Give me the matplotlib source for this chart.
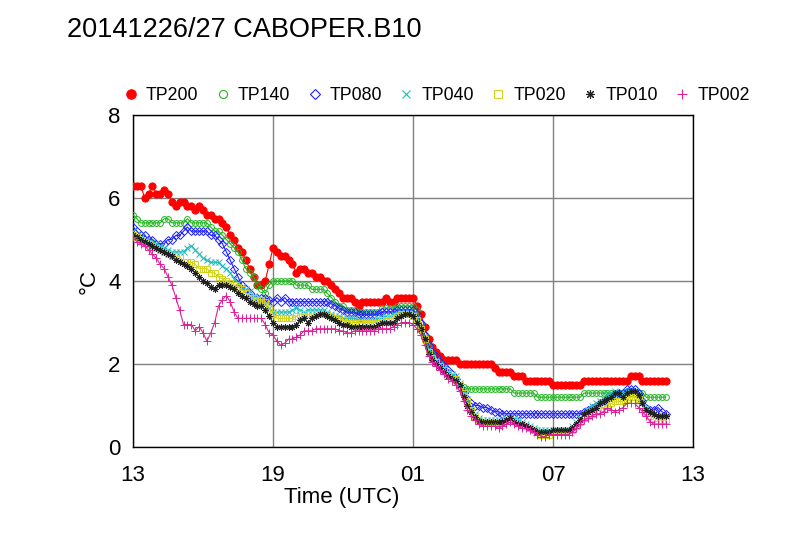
import numpy as np
import matplotlib
matplotlib.use("Agg")
import matplotlib.pyplot as plt
from matplotlib.lines import Line2D

plt.rcParams['font.family'] = ['Liberation Sans', 'DejaVu Sans']

title = "20141226/27 CABOPER.B10"
x_label = "Time (UTC)"
y_label = "°C"
xtick_labels = ["13", "19", "01", "07", "13"]
ytick_values = [0, 2, 4, 6, 8]
step_minutes = 10  # sampling interval, start at 13 UTC

tp200 = [6.3, 6.3, 6.3, 6.0, 6.1, 6.3, 6.1, 6.1, 6.2, 6.1,
         5.9, 5.8, 5.9, 5.9, 5.8, 5.8, 5.7, 5.8, 5.7, 5.6,
         5.6, 5.5, 5.5, 5.4, 5.3, 5.1, 5.0, 4.8, 4.7, 4.5,
         4.3, 4.1, 3.9, 3.9, 4.0, 4.4, 4.8, 4.7, 4.6, 4.6,
         4.5, 4.4, 4.2, 4.3, 4.3, 4.2, 4.2, 4.1, 4.1, 4.0,
         4.0, 3.9, 3.8, 3.7, 3.6, 3.6, 3.6, 3.5, 3.4, 3.5,
         3.5, 3.5, 3.5, 3.5, 3.5, 3.6, 3.5, 3.5, 3.6, 3.6,
         3.6, 3.6, 3.6, 3.4, 3.2, 2.9, 2.6, 2.4, 2.3, 2.2,
         2.1, 2.1, 2.1, 2.1, 2.0, 2.0, 2.0, 2.0, 2.0, 2.0,
         2.0, 2.0, 2.0, 1.9, 1.8, 1.8, 1.8, 1.8, 1.7, 1.7,
         1.7, 1.6, 1.6, 1.6, 1.6, 1.6, 1.6, 1.6, 1.5, 1.5,
         1.5, 1.5, 1.5, 1.5, 1.5, 1.5, 1.6, 1.6, 1.6, 1.6,
         1.6, 1.6, 1.6, 1.6, 1.6, 1.6, 1.6, 1.6, 1.7, 1.7,
         1.7, 1.6, 1.6, 1.6, 1.6, 1.6, 1.6, 1.6]

tp140 = [5.6, 5.5, 5.4, 5.4, 5.4, 5.4, 5.4, 5.4, 5.5, 5.5,
         5.4, 5.4, 5.4, 5.4, 5.5, 5.4, 5.4, 5.4, 5.4, 5.4,
         5.3, 5.2, 5.2, 5.1, 5.0, 4.9, 4.8, 4.7, 4.5, 4.3,
         4.2, 4.1, 3.9, 3.8, 3.7, 3.9, 4.0, 4.0, 4.0, 4.0,
         4.0, 4.0, 3.9, 3.9, 3.9, 3.9, 3.8, 3.8, 3.8, 3.8,
         3.7, 3.6, 3.5, 3.4, 3.4, 3.3, 3.3, 3.3, 3.25, 3.25,
         3.25, 3.25, 3.25, 3.25, 3.35, 3.35, 3.35, 3.35, 3.4, 3.4,
         3.4, 3.4, 3.4, 3.3, 3.0, 2.7, 2.4, 2.25, 2.1, 2.0,
         1.9, 1.8, 1.7, 1.6, 1.5, 1.45, 1.4, 1.4, 1.4, 1.4,
         1.4, 1.4, 1.4, 1.4, 1.4, 1.4, 1.4, 1.4, 1.3, 1.3,
         1.3, 1.3, 1.3, 1.3, 1.2, 1.2, 1.2, 1.2, 1.2, 1.2,
         1.2, 1.2, 1.2, 1.2, 1.2, 1.2, 1.3, 1.3, 1.3, 1.3,
         1.3, 1.3, 1.3, 1.3, 1.3, 1.3, 1.3, 1.3, 1.3, 1.3,
         1.3, 1.3, 1.2, 1.2, 1.2, 1.2, 1.2, 1.2]

tp080 = [5.3, 5.2, 5.1, 5.1, 5.0, 5.0, 4.9, 4.9, 4.9, 5.0,
         5.0, 5.1, 5.1, 5.2, 5.3, 5.2, 5.2, 5.2, 5.2, 5.2,
         5.1, 5.1, 5.0, 4.9, 4.7, 4.5, 4.3, 4.1, 3.9, 3.8,
         3.7, 3.6, 3.6, 3.6, 3.6, 3.55, 3.5, 3.6, 3.5, 3.6,
         3.5, 3.5, 3.5, 3.5, 3.5, 3.5, 3.5, 3.5, 3.5, 3.5,
         3.5, 3.45, 3.4, 3.35, 3.3, 3.25, 3.25, 3.25, 3.2, 3.2,
         3.2, 3.2, 3.2, 3.2, 3.25, 3.25, 3.25, 3.25, 3.3, 3.3,
         3.3, 3.3, 3.3, 3.2, 3.0, 2.7, 2.45, 2.3, 2.2, 2.05,
         1.95, 1.85, 1.75, 1.65, 1.45, 1.3, 1.15, 1.05, 1.0, 1.0,
         0.95, 0.95, 0.9, 0.85, 0.85, 0.8, 0.8, 0.8, 0.8, 0.8,
         0.8, 0.8, 0.8, 0.8, 0.8, 0.8, 0.8, 0.8, 0.8, 0.8,
         0.8, 0.8, 0.8, 0.8, 0.8, 0.8, 0.85, 0.9, 0.95, 1.0,
         1.05, 1.1, 1.15, 1.2, 1.25, 1.3, 1.3, 1.4, 1.4, 1.4,
         1.3, 1.1, 0.95, 0.9, 0.9, 0.95, 0.85, 0.8]

tp040 = [5.2, 5.1, 5.05, 5.0, 4.95, 4.95, 4.9, 4.85, 4.8, 4.75,
         4.7, 4.7, 4.7, 4.7, 4.8, 4.85, 4.75, 4.65, 4.55, 4.5,
         4.45, 4.45, 4.45, 4.35, 4.3, 4.2, 4.05, 3.95, 3.85, 3.8,
         3.75, 3.65, 3.6, 3.55, 3.45, 3.35, 3.25, 3.25, 3.25, 3.25,
         3.25, 3.3, 3.35, 3.3, 3.25, 3.3, 3.3, 3.3, 3.3, 3.3,
         3.25, 3.2, 3.15, 3.15, 3.1, 3.1, 3.1, 3.1, 3.05, 3.05,
         3.05, 3.05, 3.05, 3.1, 3.1, 3.15, 3.15, 3.2, 3.2, 3.25,
         3.25, 3.25, 3.2, 3.1, 2.9, 2.65, 2.35, 2.2, 2.1, 2.0,
         1.9, 1.8, 1.75, 1.7, 1.55, 1.35, 1.15, 0.95, 0.8, 0.7,
         0.65, 0.65, 0.65, 0.65, 0.65, 0.65, 0.7, 0.7, 0.7, 0.65,
         0.6, 0.55, 0.5, 0.45, 0.4, 0.4, 0.4, 0.4, 0.4, 0.4,
         0.4, 0.4, 0.4, 0.5, 0.6, 0.7, 0.8, 0.9, 1.0, 1.05,
         1.1, 1.15, 1.25, 1.3, 1.35, 1.3, 1.3, 1.35, 1.35, 1.35,
         1.25, 1.1, 0.95, 0.85, 0.8, 0.75, 0.75, 0.75]

tp020 = [5.1, 5.05, 5.0, 4.95, 4.9, 4.85, 4.8, 4.75, 4.7, 4.65,
         4.6, 4.6, 4.6, 4.45, 4.45, 4.45, 4.4, 4.3, 4.3, 4.3,
         4.2, 4.2, 4.1, 4.05, 4.0, 3.95, 3.9, 3.85, 3.8, 3.7,
         3.65, 3.6, 3.55, 3.55, 3.5, 3.35, 3.2, 3.1, 3.1, 3.1,
         3.1, 3.1, 3.15, 3.2, 3.2, 3.2, 3.2, 3.2, 3.2, 3.2,
         3.2, 3.15, 3.1, 3.1, 3.05, 3.0, 3.0, 3.0, 3.0, 3.0,
         3.0, 3.0, 3.0, 3.05, 3.05, 3.1, 3.1, 3.1, 3.15, 3.2,
         3.2, 3.2, 3.15, 3.05, 2.85, 2.6, 2.3, 2.15, 2.05, 1.95,
         1.85, 1.75, 1.7, 1.65, 1.5, 1.3, 1.1, 0.9, 0.75, 0.65,
         0.6, 0.6, 0.6, 0.6, 0.6, 0.6, 0.65, 0.65, 0.65, 0.6,
         0.55, 0.5, 0.45, 0.4, 0.35, 0.3, 0.3, 0.3, 0.35, 0.35,
         0.35, 0.35, 0.35, 0.4, 0.5, 0.6, 0.7, 0.75, 0.8, 0.85,
         0.9, 0.95, 1.0, 1.05, 1.1, 1.1, 1.1, 1.15, 1.2, 1.2,
         1.15, 1.0, 0.85, 0.75, 0.7, 0.65, 0.65, 0.65]

tp010 = [5.1, 5.05, 5.0, 4.95, 4.9, 4.85, 4.8, 4.75, 4.7, 4.65,
         4.6, 4.5, 4.45, 4.4, 4.35, 4.3, 4.2, 4.1, 4.0, 3.95,
         3.85, 3.8, 3.9, 3.9, 3.9, 3.85, 3.8, 3.7, 3.65, 3.6,
         3.5, 3.45, 3.4, 3.4, 3.3, 3.15, 3.0, 2.9, 2.9, 2.9,
         2.9, 2.9, 2.95, 3.05, 3.1, 3.0, 3.1, 3.15, 3.2, 3.2,
         3.15, 3.1, 3.05, 3.0, 2.95, 2.95, 2.9, 2.9, 2.9, 2.9,
         2.9, 2.9, 2.9, 2.95, 3.0, 3.0, 3.0, 3.0, 3.1, 3.15,
         3.2, 3.2, 3.15, 3.0, 2.85, 2.6, 2.25, 2.1, 2.0, 1.9,
         1.8, 1.7, 1.65, 1.6, 1.5, 1.2, 1.0, 0.85, 0.72, 0.62,
         0.6, 0.6, 0.6, 0.6, 0.6, 0.6, 0.65, 0.7, 0.6, 0.55,
         0.55, 0.5, 0.45, 0.4, 0.35, 0.35, 0.35, 0.35, 0.4, 0.4,
         0.4, 0.4, 0.4, 0.45, 0.55, 0.65, 0.8, 0.85, 0.9, 0.95,
         1.05, 1.1, 1.15, 1.2, 1.3, 1.3, 1.2, 1.3, 1.35, 1.35,
         1.25, 1.05, 0.9, 0.85, 0.8, 0.75, 0.75, 0.75]

tp002 = [5.05, 4.95, 4.9, 4.85, 4.75, 4.65, 4.55, 4.4, 4.3, 4.1,
         3.9, 3.6, 3.3, 2.95, 2.95, 2.95, 2.8, 2.9, 2.75, 2.55,
         2.75, 3.0, 3.4, 3.55, 3.65, 3.5, 3.25, 3.1, 3.1, 3.1,
         3.1, 3.1, 3.1, 3.1, 2.95, 2.75, 2.7, 2.55, 2.45, 2.5,
         2.6, 2.6, 2.65, 2.7, 2.8, 2.8, 2.8, 2.85, 2.85, 2.85,
         2.85, 2.85, 2.85, 2.8, 2.8, 2.75, 2.75, 2.8, 2.8, 2.8,
         2.8, 2.8, 2.8, 2.85, 2.85, 2.85, 2.85, 2.9, 2.95, 3.0,
         3.0, 3.0, 2.95, 2.85, 2.7, 2.45, 2.2, 2.05, 1.95, 1.85,
         1.75, 1.65, 1.6, 1.5, 1.35, 1.1, 0.9, 0.75, 0.65, 0.55,
         0.5, 0.5, 0.5, 0.5, 0.45, 0.5, 0.55, 0.6, 0.55, 0.5,
         0.45, 0.45, 0.4, 0.35, 0.3, 0.25, 0.25, 0.3, 0.3, 0.3,
         0.3, 0.3, 0.3, 0.35, 0.45, 0.55, 0.65, 0.7, 0.75, 0.8,
         0.8, 0.85, 0.95, 0.9, 0.85, 0.9, 0.95, 1.05, 1.05, 1.05,
         0.95, 0.85, 0.75, 0.6, 0.55, 0.55, 0.55, 0.55]

labels = ["TP200", "TP140", "TP080", "TP040", "TP020", "TP010", "TP002"]
values = [tp200, tp140, tp080, tp040, tp020, tp010, tp002]
colors = ["#ff0000", "#22b422", "#2020ff", "#20bcbc", "#d2d21e", "#202020", "#dd2299"]
markers = ["o", "o", "D", "x", "s", (8, 2, 0), "+"]
msizes = [5.2, 4.2, 3.6, 4.5, 4.2, 4.8, 5.2]
filled = [True, False, False, False, False, False, False]

fig = plt.figure(figsize=(7.9, 5.45), dpi=100)
ax = fig.add_axes([133 / 790, 1 - 447 / 545, 560 / 790, 332 / 545])

handles = []
for lab, v, c, m, ms, f in zip(labels, values, colors, markers, msizes, filled):
    hrs = np.arange(len(v)) * step_minutes / 60.0
    ax.plot(hrs, v, color=c, lw=0.8, marker=m, ms=ms,
            mfc=c if f else 'none', mec=c, mew=0.7, zorder=3)
    handles.append(Line2D([], [], ls='none', marker=m, ms=ms + 1.6, color=c,
                          mfc=c if f else 'none', mec=c, mew=0.8))

ax.set_xlim(0, 24)
ax.set_xticks(np.arange(len(xtick_labels)) * 6)
ax.set_xticklabels(xtick_labels)
ax.set_ylim(ytick_values[0], ytick_values[-1])
ax.set_yticks(ytick_values)
ax.grid(True, color='#808080', lw=1.0, zorder=1)
ax.set_axisbelow(True)
ax.tick_params(axis='both', direction='in', length=0, labelsize=16)
ax.tick_params(axis='x', pad=13)
ax.tick_params(axis='y', pad=9)
for s in ax.spines.values():
    s.set_color('black')
    s.set_linewidth(1.0)

fig.text(67 / 790, 1 - 30 / 545, title, fontsize=19.5, va='center', ha='left')
fig.text(342 / 790, 1 - 497 / 545, x_label, fontsize=16, va='center', ha='center')
fig.text(89 / 790, 1 - 281 / 545, y_label, fontsize=16, va='center', ha='center', rotation=90)

fig.legend(handles, labels, ncol=7, loc='center left',
           bbox_to_anchor=(122 / 790, 1 - 96 / 545), bbox_transform=fig.transFigure,
           frameon=False, fontsize=12.8, handlelength=1.0, handletextpad=0.35,
           columnspacing=0.865, borderpad=0, borderaxespad=0)

fig.savefig("out.png", dpi=100)
